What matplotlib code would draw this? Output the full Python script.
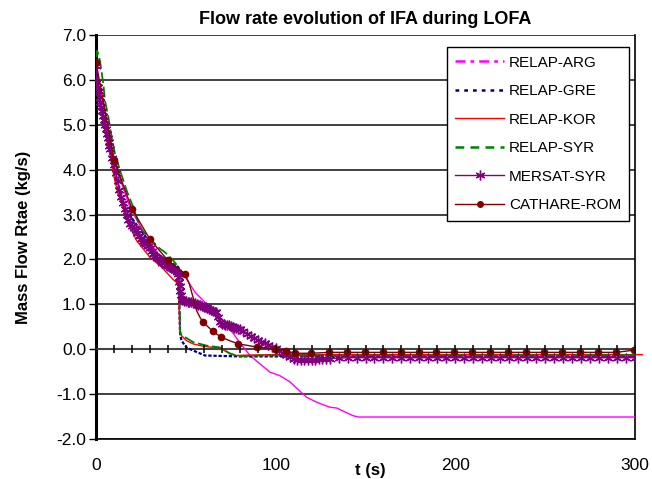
import matplotlib
matplotlib.use('Agg')
import matplotlib.pyplot as plt
from matplotlib.lines import Line2D

plt.rcParams['font.family'] = ['Liberation Sans', 'DejaVu Sans']

# ===================== 数据 =====================
arg_t = [0, 2, 5, 9.6, 12.4, 18.9, 28.2, 35, 40.2, 45.8, 48.6, 55.1, 61.6, 70.8, 74.6, 80,
         85.7, 96.8, 102.4, 108, 117.2, 122.8, 130, 134, 143, 146, 300]
arg_q = [6.0, 5.6, 5.0, 4.35, 3.91, 3.16, 2.49, 2.1, 1.90, 1.79, 1.68, 1.27, 1.01, 0.64, 0.45, 0.15,
         -0.14, -0.51, -0.59, -0.73, -1.07, -1.18, -1.29, -1.31, -1.48, -1.51, -1.51]

gre_t = [0, 2, 4, 6, 8, 11.5, 16.1, 20.8, 26.4, 32.8, 41.2, 45.8, 46.8, 47.6, 50.4, 54.1, 60.7, 80, 300]
gre_q = [6.2, 5.7, 5.2, 4.85, 4.4, 3.68, 3.16, 2.87, 2.57, 2.16, 1.94, 1.83, 0.34, 0.19, 0.04, -0.03,
         -0.14, -0.16, -0.16]

kor_t = [0, 2, 4, 6, 8, 10, 12, 15, 18, 22.6, 26, 30, 33, 36, 40, 43, 45.8, 46.3, 46.6, 47.6, 50.4,
         54, 58, 63, 67, 70, 74, 78, 85, 100, 150, 200, 250, 300, 304]
kor_q = [6.0, 5.5, 5.05, 4.65, 4.3, 3.85, 3.5, 3.17, 2.8, 2.42, 2.25, 2.05, 1.95, 1.85, 1.68, 1.55,
         1.46, 0.9, 0.49, 0.30, 0.19, 0.12, 0.08, 0.05, 0.04, 0.0, -0.08, -0.14, -0.13, -0.12, -0.12,
         -0.12, -0.12, -0.12, -0.12]

syr_t = [0, 0.7, 2.2, 4.1, 5, 6.9, 8.7, 10.6, 13.4, 17.1, 20.8, 24.5, 30, 35.6, 38.4, 43, 45.8, 46.5,
         46.8, 49.5, 54, 61.6, 69, 74.6, 80, 90, 300]
syr_q = [6.5, 6.65, 6.43, 5.91, 5.54, 5.17, 4.72, 4.35, 3.98, 3.53, 3.16, 2.7, 2.46, 2.24, 2.16, 1.98,
         1.83, 1.75, 0.34, 0.27, 0.16, 0.08, 0.04, -0.10, -0.16, -0.14, -0.13]

mersat_t = [0, 0.3, 1.0, 1.5, 2.0, 2.5, 3.0, 3.5, 4.0, 4.5, 5.0, 5.5, 6.0, 6.5, 7.0, 7.5, 8, 9, 10,
            11, 12, 13, 14, 15, 16, 17, 18, 19, 20, 21, 22, 23, 24, 25, 26, 27, 28, 29, 30, 31, 32,
            33, 34, 35, 36, 37, 38, 39, 40, 41, 42, 43, 44, 45, 45.5, 46, 46.3, 46.6, 46.9, 47.2,
            47.6, 48, 49, 50, 51, 52, 53, 54, 55, 56, 57, 58, 59, 60, 61, 62, 63, 64, 65, 66, 67,
            68, 69, 70, 71, 72, 73, 74, 75, 76, 77, 78, 79, 80, 82, 84, 86, 88, 90, 92, 94, 96, 98,
            100, 102, 104, 106, 108, 110, 112, 114, 116, 118, 120, 122, 124, 126, 128, 130, 135,
            140, 145, 150, 155, 160, 165, 170, 175, 180, 185, 190, 195, 200, 205, 210, 215, 220,
            225, 230, 235, 240, 245, 250, 255, 260, 265, 270, 275, 280, 285, 290, 295, 300]
mersat_q = [6.32, 5.95, 5.85, 5.75, 5.62, 5.50, 5.40, 5.30, 5.20, 5.10, 5.00, 4.90, 4.80, 4.70, 4.62,
            4.53, 4.45, 4.27, 4.10, 3.92, 3.75, 3.55, 3.40, 3.26, 3.12, 2.98, 2.88, 2.80, 2.74,
            2.69, 2.65, 2.60, 2.52, 2.46, 2.40, 2.36, 2.35, 2.30, 2.25, 2.18, 2.12, 2.07, 2.03,
            2.00, 1.96, 1.93, 1.91, 1.88, 1.86, 1.84, 1.82, 1.79, 1.76, 1.72, 1.68, 1.60, 1.50,
            1.40, 1.30, 1.20, 1.12, 1.09, 1.08, 1.07, 1.06, 1.06, 1.05, 1.04, 1.03, 1.01, 0.99,
            0.98, 0.96, 0.95, 0.94, 0.92, 0.90, 0.88, 0.86, 0.84, 0.82, 0.72, 0.60, 0.57, 0.56,
            0.55, 0.54, 0.53, 0.52, 0.50, 0.48, 0.47, 0.46, 0.45, 0.40, 0.35, 0.30, 0.25, 0.21,
            0.17, 0.14, 0.10, 0.06, 0.02, -0.03, -0.08, -0.13, -0.18, -0.21, -0.23, -0.24, -0.25,
            -0.25, -0.24, -0.23, -0.22, -0.22, -0.21, -0.21, -0.20, -0.19, -0.19, -0.19, -0.19,
            -0.19, -0.19, -0.19, -0.19, -0.19, -0.19, -0.19, -0.19, -0.19, -0.19, -0.19, -0.19,
            -0.19, -0.19, -0.19, -0.19, -0.19, -0.19, -0.19, -0.19, -0.19, -0.19, -0.19, -0.19,
            -0.19, -0.19, -0.19, -0.19, -0.19]

# CATHARE: 带标记的点 + 中间平滑点
cathare_t = [0, 10, 20, 30, 40, 49.5, 52, 54, 56, 58, 59.7, 65, 69.6, 75, 79.2, 89.4, 99.5, 106, 111,
             119.5, 129.5, 139.5, 149.5, 159.5, 169.5, 179.5, 189.5, 199.5, 209.5, 219.5, 229.5,
             239.5, 249.5, 259.5, 269.5, 279.5, 289.5, 299.5]
cathare_q = [6.40, 4.22, 3.13, 2.45, 1.98, 1.68, 1.45, 1.16, 0.86, 0.70, 0.60, 0.40, 0.27, 0.18,
             0.12, 0.05, 0.01, -0.04, -0.09, -0.09, -0.07, -0.07, -0.07, -0.07, -0.07, -0.07,
             -0.07, -0.07, -0.07, -0.07, -0.07, -0.07, -0.07, -0.07, -0.07, -0.07, -0.07, -0.02]
cathare_mark = [0, 1, 2, 3, 4, 5] + list(range(10, len(cathare_t)))
cathare_mark.remove(13)

labels = ['RELAP-ARG', 'RELAP-GRE', 'RELAP-KOR', 'RELAP-SYR', 'MERSAT-SYR', 'CATHARE-ROM']

# ===================== 绘图 =====================
fig = plt.figure(figsize=(6.52, 4.79), dpi=100)
ax = fig.add_axes([0.1472, 0.0835, 0.8268, 0.8434])

ax.plot(arg_t, arg_q, color='#FF00FF', lw=1.0, zorder=3)
ax.plot(gre_t, gre_q, color='#000080', lw=1.6, ls=(0, (1.5, 0.8)), zorder=3)
ax.plot(kor_t, kor_q, color='#FF0000', lw=1.0, zorder=3, clip_on=False)
ax.plot(syr_t, syr_q, color='#008000', lw=1.3, ls=(0, (6, 2)), zorder=3)
ax.plot(mersat_t, mersat_q, color='#800080', lw=1.0, marker=(6, 2, 0), ms=7, mew=1.0, zorder=4)
ax.plot(cathare_t, cathare_q, color='#800000', lw=1.0, marker='o', ms=4.5,
        markevery=cathare_mark, zorder=5)

ax.set_xlim(0, 300)
ax.set_ylim(-2, 7)
ax.set_yticks([-2, -1, 0, 1, 2, 3, 4, 5, 6, 7])
ax.set_yticklabels([f"{v:.1f}" for v in [-2, -1, 0, 1, 2, 3, 4, 5, 6, 7]])
ax.set_xticks([0, 100, 200, 300])
ax.set_xticks(list(range(0, 301, 10)), minor=True)
ax.grid(axis='y', color='#333333', lw=1.3, zorder=1)

# 零线上的刻度（Excel 样式）
ax.spines['top'].set_position(('data', 0))
ax.spines['top'].set_color('#444444')
ax.spines['top'].set_linewidth(1.5)
ax.spines['left'].set_linewidth(2.2)
ax.spines['right'].set_linewidth(1.2)
ax.spines['bottom'].set_linewidth(1.2)
ax.tick_params(axis='x', which='both', bottom=False, top=True, labelbottom=True, labeltop=False,
               direction='inout', length=6, width=1.2, color='#111111', labelsize=12.5, pad=11)
ax.tick_params(axis='y', length=5, width=1, direction='out', labelsize=12.5, pad=2)
ax.xaxis.set_zorder(6)

ax.set_title('Flow rate evolution of IFA during LOFA', fontsize=13, fontweight='bold', pad=8)
ax.set_ylabel('Mass Flow Rtae (kg/s)', fontsize=12, fontweight='bold', labelpad=18)
fig.text(370 / 652, 1 - 470 / 479, 't (s)', fontsize=12, fontweight='bold', ha='center', va='center')

handles = [
    Line2D([], [], color='#FF00FF', lw=1.8, ls=(0, (4, 2, 1.5, 2))),
    Line2D([], [], color='#000080', lw=1.8, ls=(0, (1.5, 2))),
    Line2D([], [], color='#FF0000', lw=1.0),
    Line2D([], [], color='#008000', lw=1.8, ls=(0, (3.5, 2.5))),
    Line2D([], [], color='#800080', lw=1.0, marker=(6, 2, 0), ms=7),
    Line2D([], [], color='#800000', lw=1.0, marker='o', ms=4),
]
leg = ax.legend(handles, labels, loc='upper left', bbox_to_anchor=(0.651, 0.970), fontsize=11,
                frameon=True, fancybox=False, shadow=False, framealpha=1, edgecolor='black',
                handlelength=3.2, handletextpad=0.3, labelspacing=0.95, borderpad=0.55,
                borderaxespad=0)
leg.get_frame().set_linewidth(1.0)
leg.set_zorder(10)

fig.savefig('out.png', dpi=100)
